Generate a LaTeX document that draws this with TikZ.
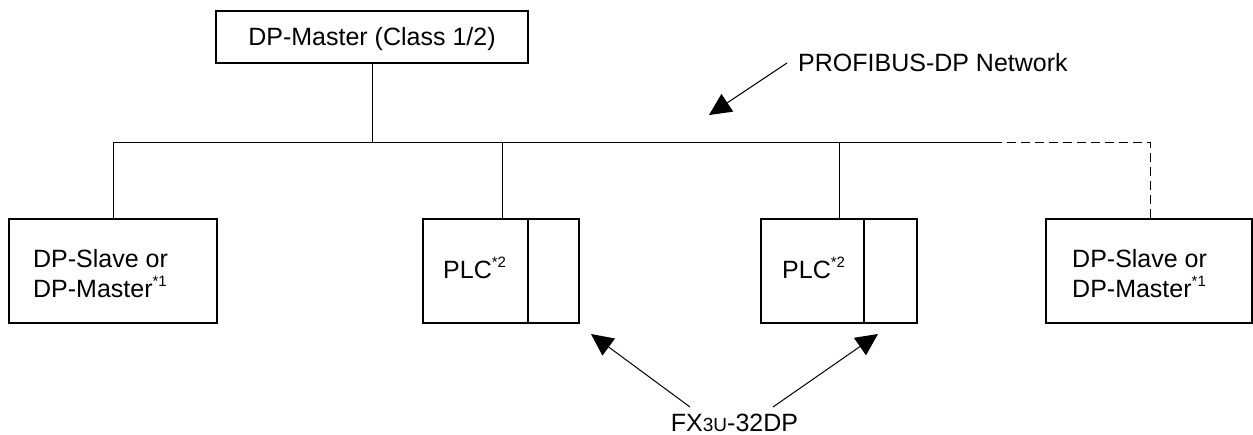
\documentclass[tikz,border=0pt]{standalone}
\usepackage{fontspec}
\setmainfont{Liberation Sans}
\usetikzlibrary{arrows.meta}
\tikzset{
  box/.style={draw, line width=1.1pt, inner sep=0pt, minimum width=#1},
  boxh/.style={minimum height=104pt},
  txt/.style={inner sep=0pt, anchor=base west, font=\fontsize{25}{30}\selectfont},
  ctxt/.style={inner sep=0pt, anchor=base, font=\fontsize{25}{30}\selectfont},
  wire/.style={line width=1pt},
  dwire/.style={line width=1pt, dash pattern=on 9pt off 5pt},
  bigarrow/.style={line width=1pt, -{Triangle[length=22pt,width=21pt]}}
}
\newcommand{\supmark}[1]{\raisebox{0.42em}{\fontsize{15}{15}\selectfont #1}}
\begin{document}
\begin{tikzpicture}[x=1pt,y=-1pt]
\useasboundingbox (0,0) rectangle (1253,434);
% master
\node[box=312pt, minimum height=52pt] (master) at (372,37) {};
\node[ctxt] (mastertxt) at (372,45) {DP-Master (Class 1/2)};
% slave boxes
\node[box=208pt, boxh] (left) at (113,271) {};
\node[txt] (lefttxt1) at (33,267) {DP-Slave or};
\node[txt] (lefttxt2) at (33,297) {DP-Master\supmark{*1}};
\node[box=206pt, boxh] (right) at (1149,271) {};
\node[txt] (righttxt1) at (1072,267) {DP-Slave or};
\node[txt] (righttxt2) at (1072,297) {DP-Master\supmark{*1}};
% PLC 1
\node[box=105pt, boxh] (plcA) at (475.5,271) {};
\node[box=51pt, boxh] (modA) at (553.5,271) {};
\node[txt] (plcAtxt) at (443,278) {PLC\supmark{*2}};
% PLC 2
\node[box=103pt, boxh] (plcB) at (812.5,271) {};
\node[box=53pt, boxh] (modB) at (890.5,271) {};
\node[txt] (plcBtxt) at (782,278) {PLC\supmark{*2}};
% bus
\coordinate (busM) at (372,142);
\coordinate (busL) at (113,142);
\coordinate (busA) at (502,142);
\coordinate (busB) at (839,142);
\coordinate (busEnd) at (993,142);
\coordinate (busR) at (1150,142);
\draw[wire] (master.south) -- (busM);
\draw[wire] (busL) -- (busEnd);
\draw[dwire] (busEnd) -- (busR) -- (right.north -| busR);
\draw[wire] (busL) -- (left.north -| busL);
\draw[wire] (busA) -- (plcA.north -| busA);
\draw[wire] (busB) -- (plcB.north -| busB);
% network label
\node[txt] (nettxt) at (798,71) {PROFIBUS-DP Network};
\coordinate (netTail) at (787,63);
\coordinate (netTip) at (709,115);
\draw[bigarrow] (netTail) -- (netTip);
% FX3U label
\node[ctxt] (fxtxt) at (734.5,431) {FX{\fontsize{19}{19}\selectfont 3U}-32DP};
\coordinate (fxTailA) at (690,407);
\coordinate (fxTipA) at (591,334);
\coordinate (fxTailB) at (773,407);
\coordinate (fxTipB) at (878,334);
\draw[bigarrow] (fxTailA) -- (fxTipA);
\draw[bigarrow] (fxTailB) -- (fxTipB);
\end{tikzpicture}
\end{document}
